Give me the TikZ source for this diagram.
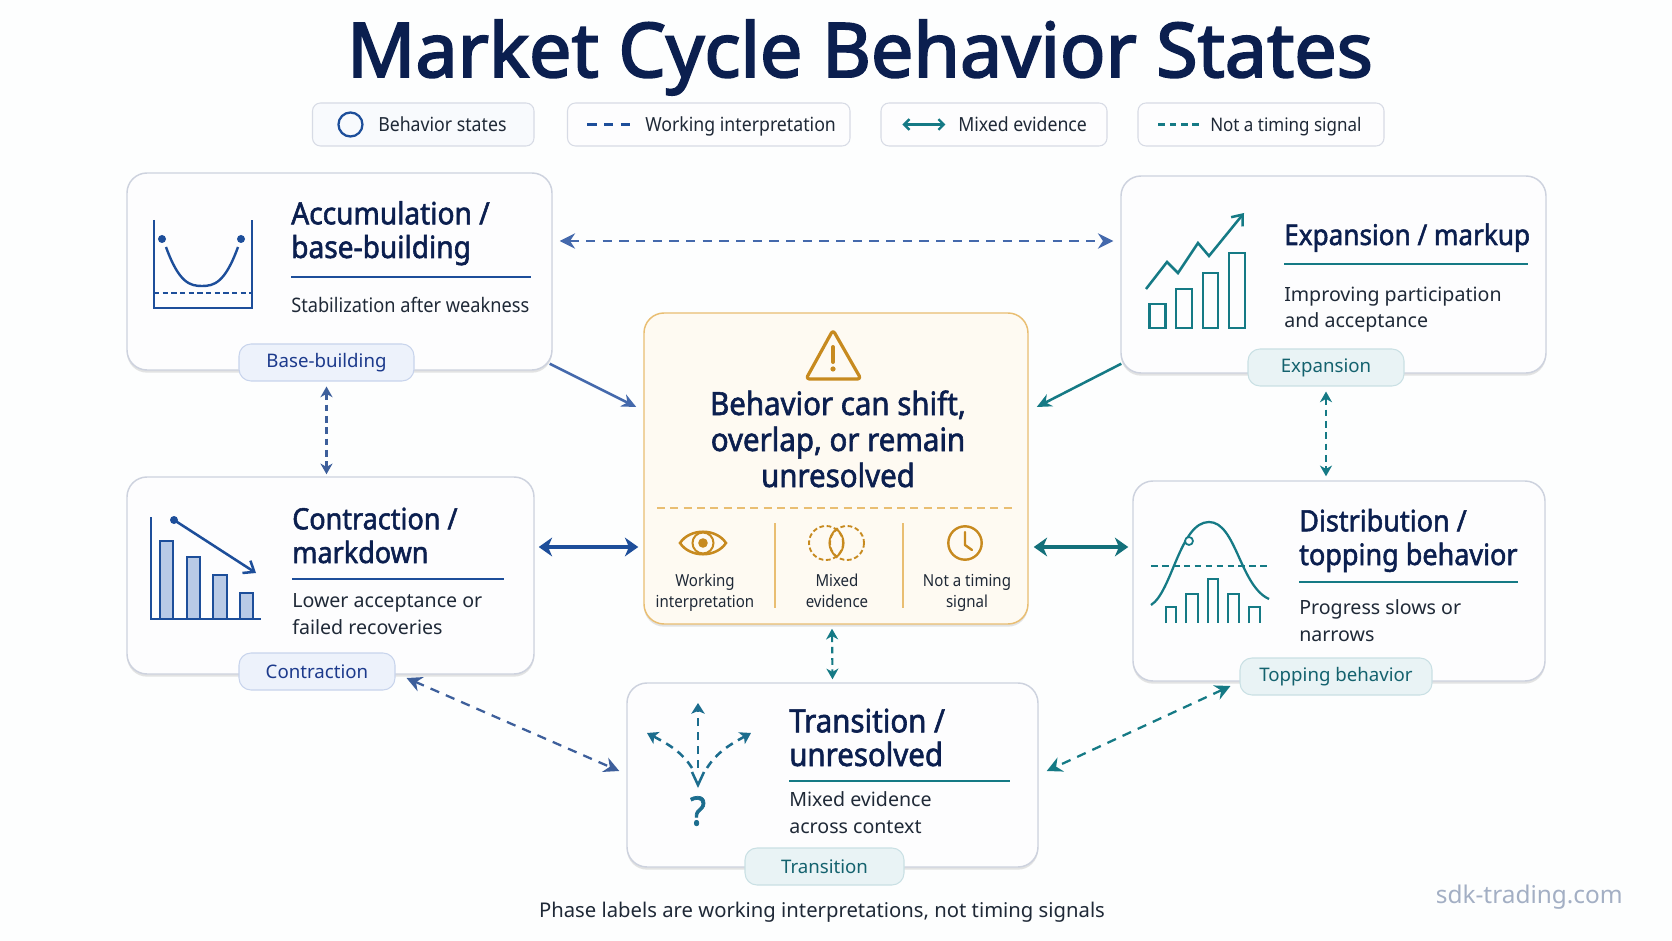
\documentclass[tikz,border=0pt]{standalone}
\usepackage{fontspec}
\setmainfont{Noto Sans}
\newfontfamily\titlefont[FakeBold=2.6]{Noto Sans}
\newfontfamily\headfont[FakeBold=1.8,FakeStretch=.92]{Noto Sans}
\newfontfamily\narrowfont[FakeStretch=.91]{Noto Sans}
\usetikzlibrary{arrows.meta,positioning,calc,fit,shadows}

\definecolor{pagebg}{HTML}{FDFEFE}
\definecolor{navytext}{HTML}{0B1F4F}
\definecolor{bodytext}{HTML}{1F2937}
\definecolor{cardline}{HTML}{CDD2DE}
\definecolor{cardfill}{HTML}{FDFDFE}
\definecolor{blueline}{HTML}{1D4E9A}
\definecolor{softblue}{HTML}{4469AC}
\definecolor{barblue}{HTML}{B9CAE6}
\definecolor{tealline}{HTML}{157A85}
\definecolor{iconblue}{HTML}{1C6D8E}
\definecolor{bluepillfill}{HTML}{EDF2FB}
\definecolor{bluepillline}{HTML}{C8D4EC}
\definecolor{bluepilltext}{HTML}{1C3A8C}
\definecolor{tealpillfill}{HTML}{E9F3F5}
\definecolor{tealpillline}{HTML}{C9E0E4}
\definecolor{tealpilltext}{HTML}{14626E}
\definecolor{goldline}{HTML}{E9BE72}
\definecolor{goldicon}{HTML}{C78A1F}
\definecolor{goldfill}{HTML}{FEFAF2}
\definecolor{markgrey}{HTML}{A3AFC4}

\tikzset{
  statebox/.style={draw=cardline, fill=cardfill, line width=1.1pt, rounded corners=15pt, inner sep=0pt,
    drop shadow={shadow xshift=0pt, shadow yshift=-2pt, fill=black!30, opacity=.35}},
  legendbox/.style={draw=cardline!80, fill=cardfill, line width=.8pt, rounded corners=6pt, inner sep=0pt},
  bluepill/.style={draw=bluepillline, fill=bluepillfill, line width=.8pt, rounded corners=9pt, inner sep=0pt,
    minimum height=37*0.75pt, text=bluepilltext, font=\fontsize{14}{17}\selectfont},
  tealpill/.style={bluepill, draw=tealpillline, fill=tealpillfill, text=tealpilltext},
  headtext/.style={anchor=base west, inner sep=0pt, align=left, text=navytext,
    font=\fontsize{22}{25.3}\selectfont\headfont},
  subtext/.style={anchor=base west, inner sep=0pt, align=left, text=bodytext,
    font=\fontsize{14.7}{20}\selectfont},
  legendtext/.style={anchor=base west, inner sep=0pt, text=bodytext, font=\fontsize{14.6}{17}\selectfont\narrowfont},
  smalltext/.style={anchor=base, inner sep=0pt, align=center, text=bodytext, font=\fontsize{12.4}{15.5}\selectfont\narrowfont},
  dashline/.style={dash pattern=on 7pt off 5.5pt},
  tinydash/.style={dash pattern=on 5pt off 3.5pt},
  bothtips/.style={{Stealth[length=11.5pt,width=11.5pt]}-{Stealth[length=11.5pt,width=11.5pt]}},
  smalltips/.style={{Stealth[length=8pt,width=9pt,inset=2.5pt]}-{Stealth[length=8pt,width=9pt,inset=2.5pt]}},
  thicktips/.style={{Stealth[length=10pt,width=14pt,inset=3pt]}-{Stealth[length=10pt,width=14pt,inset=3pt]}},
}

\begin{document}
\begin{tikzpicture}[x=0.75pt,y=-0.75pt]
  \fill[pagebg] (0,0) rectangle (1672,941);
  \useasboundingbox (0,0) rectangle (1672,941);

  \node[anchor=base, inner sep=0pt, text=navytext, font=\fontsize{56.5}{60}\selectfont\titlefont] (maintitle) at (860,77) {Market Cycle Behavior States};

  % legend row
  \node[legendbox, fill=bluepillfill!40, fit={(312.5,103) (534,146)}] (legstates) {};
  \node[legendbox, fit={(567.5,103) (850,146)}] (legwork) {};
  \node[legendbox, fit={(881,103) (1107,146)}] (legmixed) {};
  \node[legendbox, fit={(1138,103) (1384,146)}] (legtiming) {};
  \node[legendtext] (legstatestext) at (378,132) {Behavior states};
  \node[legendtext] (legworktext) at (645,132) {Working interpretation};
  \node[legendtext] (legmixedtext) at (958,132) {Mixed evidence};
  \node[legendtext, font=\fontsize{14}{17}\selectfont\narrowfont] (legtimingtext) at (1210,132) {Not a timing signal};
  \draw[blueline, line width=1.7pt] ($(legstates.west)+(38.5,0)$) circle[radius=12];
  \draw[blueline, line width=1.8pt, dashline] ($(legwork.west)+(20.5,0)$) -- +(44,0);
  \draw[tealline, line width=1.8pt, {Straight Barb[length=4pt,width=8pt]}-{Straight Barb[length=4pt,width=8pt]}] ($(legmixed.west)+(22,0)$) -- +(43,0);
  \draw[tealline, line width=1.6pt, tinydash] ($(legtiming.west)+(21,0)$) -- +(41,0);

  % state cards
  \node[statebox, fit={(127,173) (552,370)}] (accbox) {};
  \node[statebox, fit={(1121,176) (1546,373)}] (expbox) {};
  \node[statebox, fit={(127,477) (534,674)}] (conbox) {};
  \node[statebox, fit={(1133,481) (1545,681)}] (disbox) {};
  \node[statebox, fit={(627,683) (1038,867)}] (trabox) {};
  \node[statebox, draw=goldline, fill=goldfill, fit={(644,313) (1028,624)}] (midbox) {};

  \node[bluepill, minimum width=175*0.75pt] (accpill) at (326.5,362.5) {Base-building};
  \node[tealpill, minimum width=156*0.75pt] (exppill) at (1326,367.5) {Expansion};
  \node[bluepill, minimum width=156*0.75pt] (conpill) at (317,671.5) {Contraction};
  \node[tealpill, minimum width=192*0.75pt] (dispill) at (1336,676.5) {Topping behavior};
  \node[tealpill, minimum width=159*0.75pt] (trapill) at (824.5,866.5) {Transition};

  \node[headtext, font=\fontsize{22.9}{25.3}\selectfont\headfont] (acchead) at (291,258) {Accumulation /\\base-building};
  \node[headtext, font=\fontsize{21.3}{25.3}\selectfont\headfont] (exphead) at (1284,245) {Expansion / markup};
  \node[headtext] (conhead) at (292,563) {Contraction /\\markdown};
  \node[headtext] (dishead) at (1299,565) {Distribution /\\topping behavior};
  \node[headtext, font=\fontsize{24}{25.3}\selectfont\headfont] (trahead) at (789,766) {Transition /\\unresolved};

  \node[subtext, font=\fontsize{15}{20}\selectfont\narrowfont] (accsub) at (291,313) {Stabilization after weakness};
  \node[subtext] (expsub) at (1284,328) {Improving participation\\and acceptance};
  \node[subtext] (consub) at (292,634) {Lower acceptance or\\failed recoveries};
  \node[subtext] (dissub) at (1299,641) {Progress slows or\\narrows};
  \node[subtext] (trasub) at (789,833) {Mixed evidence\\across context};

  \draw[blueline, line width=1.6pt] (291,277) -- (531,277);
  \draw[tealline, line width=1.6pt] (1284,264) -- (1528,264);
  \draw[blueline, line width=1.6pt] (292,579) -- (504,579);
  \draw[tealline, line width=1.6pt] (1299,582) -- (1518,582);
  \draw[tealline, line width=1.6pt] (789,781) -- (1010,781);

  % accumulation icon
  \draw[blueline, line width=1.7pt] (154,220) -- (154,308) -- (252,308) -- (252,220);
  \draw[blueline, line width=1.5pt, dash pattern=on 4pt off 2.5pt] (154,293) -- (252,293);
  \fill[blueline] (162,239) circle[radius=4] (241,239) circle[radius=4];
  \draw[blueline, line width=1.8pt] (166,247) .. controls (179,283) and (190,286) .. (202,286) .. controls (214,286) and (225,283) .. (238,247);

  % expansion icon
  \draw[tealline, line width=1.9pt] (1149.5,304) rectangle (1165.5,328);
  \draw[tealline, line width=1.9pt] (1176,289) rectangle (1192,328);
  \draw[tealline, line width=1.9pt] (1203,273) rectangle (1218,328);
  \draw[tealline, line width=1.9pt] (1229,253) rectangle (1245,328);
  \draw[tealline, line width=1.9pt, -{Straight Barb[length=7pt,width=11pt]}] (1146,289) -- (1167,262) -- (1178,273) -- (1198,243) -- (1209,256) -- (1244,213);

  % contraction icon
  \draw[blueline, line width=1.5pt, fill=barblue] (160,619) -- (160,541) -- (173,541) -- (173,619);
  \draw[blueline, line width=1.5pt, fill=barblue] (187,619) -- (187,557) -- (200,557) -- (200,619);
  \draw[blueline, line width=1.5pt, fill=barblue] (213,619) -- (213,575) -- (227,575) -- (227,619);
  \draw[blueline, line width=1.5pt, fill=barblue] (240,619) -- (240,593) -- (253,593) -- (253,619);
  \draw[blueline, line width=1.9pt] (151,517) -- (151,619) -- (261,619);
  \fill[blueline] (174,520) circle[radius=4];
  \draw[blueline, line width=1.9pt, -{Straight Barb[length=7pt,width=11pt]}] (174,520) -- (256,573);

  % distribution icon
  \draw[tealline, line width=1.7pt] (1166,623) -- (1166,607) -- (1176,607) -- (1176,623);
  \draw[tealline, line width=1.7pt] (1186,623) -- (1186,594) -- (1198,594) -- (1198,623);
  \draw[tealline, line width=1.7pt] (1208,623) -- (1208,579) -- (1218,579) -- (1218,623);
  \draw[tealline, line width=1.7pt] (1228,623) -- (1228,594) -- (1239,594) -- (1239,623);
  \draw[tealline, line width=1.7pt] (1249,623) -- (1249,607) -- (1260,607) -- (1260,623);
  \draw[tealline, line width=1.5pt, dash pattern=on 5pt off 3.2pt] (1151,566) -- (1269,566);
  \draw[tealline, line width=1.7pt] (1151,605) .. controls (1172,592) and (1180,522) .. (1209,522) .. controls (1236,522) and (1240,586) .. (1269,599);
  \draw[tealline, line width=1.3pt, fill=cardfill] (1189,541) circle[radius=4];

  % transition icon
  \draw[iconblue, line width=1.9pt, dash pattern=on 6pt off 4.5pt, -{Stealth[length=8pt,width=10pt,inset=2pt]}] (698,768) -- (698,703);
  \draw[iconblue, line width=1.9pt, dash pattern=on 6pt off 4.5pt, -{Stealth[length=8pt,width=10pt,inset=2pt]}] (692,768) .. controls (682,752) and (668,744) .. (647,733);
  \draw[iconblue, line width=1.9pt, dash pattern=on 6pt off 4.5pt, -{Stealth[length=8pt,width=10pt,inset=2pt]}] (707,768) .. controls (717,752) and (731,744) .. (751,733);
  \draw[iconblue, line width=1.9pt] (692,772) -- (698,785) -- (704,772);
  \node[inner sep=0pt, text=iconblue, font=\fontsize{30}{32}\selectfont\headfont] (traquest) at (698,811) {?};

  % middle panel
  \draw[goldicon, line width=2.4pt, line join=round, rounded corners=2.5pt] (833,330) -- (861,379) -- (806,379) -- cycle;
  \draw[goldicon, line width=3pt, line cap=round] (833,347) -- (833,362);
  \fill[goldicon] (833,369) circle[radius=2.6];
  \node[anchor=base, inner sep=0pt, align=center, text=navytext, font=\fontsize{24}{27}\selectfont\headfont] (midhead) at (838,487) {Behavior can shift,\\overlap, or remain\\unresolved};
  \draw[goldline, line width=1.2pt, dash pattern=on 6pt off 4pt] (657,508) -- (1012,508);
  \draw[goldline, line width=1.2pt] (775,523) -- (775,608);
  \draw[goldline, line width=1.2pt] (903,523) -- (903,608);
  \draw[goldicon, line width=1.9pt] (680,543) .. controls (690,528) and (716,528) .. (726,543) .. controls (716,558) and (690,558) .. (680,543) -- cycle;
  \draw[goldicon, line width=1.5pt] (703,543) circle[radius=10.5];
  \fill[goldicon] (703,543) circle[radius=4.8];
  \draw[goldicon, line width=1.4pt, dash pattern=on 3.5pt off 2pt] (826,543) circle[radius=17];
  \draw[goldicon, line width=1.4pt, dash pattern=on 3.5pt off 2pt] (847,543) circle[radius=17];
  \draw[goldicon, line width=1.4pt] (836.5,529) .. controls (846,537) and (846,549) .. (836.5,557) .. controls (827,549) and (827,537) .. (836.5,529) -- cycle;
  \draw[goldicon, line width=1.8pt] (965,543) circle[radius=16.7];
  \draw[goldicon, line width=1.8pt, line cap=round, line join=round] (965,532) -- (965,545) -- (972,550);
  \node[smalltext] (midworktext) at (705,607) {Working\\interpretation};
  \node[smalltext] (midmixedtext) at (837,607) {Mixed\\evidence};
  \node[smalltext] (midtimingtext) at (967,607) {Not a timing\\signal};

  % connectors
  \draw[softblue, line width=1.6pt, dashline, bothtips] ($(accbox.east)+(7,-30.5)$) -- ($(expbox.west)+(-7,-33.5)$);
  \draw[softblue, line width=1.9pt, -{Stealth[length=11pt,width=10pt]}] ($(accbox.south east)+(-3,-7)$) -- ($(midbox.west)+(-7,-61.5)$);
  \draw[tealline, line width=1.9pt, -{Stealth[length=11pt,width=10pt]}] ($(expbox.south west)+(1,-10)$) -- ($(midbox.east)+(8,-61.5)$);
  \draw[softblue!90!black, line width=1.6pt, tinydash, smalltips] ($(accpill.south)+(0,5)$) -- ($(conbox.north)+(-4,-2)$);
  \draw[tealline, line width=1.6pt, tinydash, smalltips] ($(exppill.south)+(0,5)$) -- ($(disbox.north)+(-13,-4)$);
  \draw[blueline, line width=2.4pt, thicktips] ($(conbox.east)+(4,-28.5)$) -- ($(midbox.west)+(-5,78.5)$);
  \draw[tealline!92!black, line width=2.4pt, thicktips] ($(midbox.east)+(5,78.5)$) -- ($(disbox.west)+(-4,-34)$);
  \draw[tealline, line width=1.6pt, tinydash, smalltips] ($(midbox.south)+(-4,4)$) -- ($(trabox.north)+(0,-3)$);
  \draw[softblue!90!black, line width=1.7pt, dashline, bothtips] ($(conpill.east)+(11,6.5)$) -- ($(trabox.west)+(-7,-4)$);
  \draw[tealline, line width=1.7pt, dashline, bothtips] ($(dispill.west)+(-9,9.5)$) -- ($(trabox.east)+(8,-4)$);

  % bottom lines
  \node[anchor=base, inner sep=0pt, text=bodytext, font=\fontsize{15.2}{18}\selectfont] (footnote) at (822,917) {Phase labels are working interpretations, not timing signals};
  \node[anchor=base east, inner sep=0pt, text=markgrey, font=\fontsize{18.3}{21}\selectfont] (watermark) at (1623,903) {sdk-trading.com};
\end{tikzpicture}
\end{document}
